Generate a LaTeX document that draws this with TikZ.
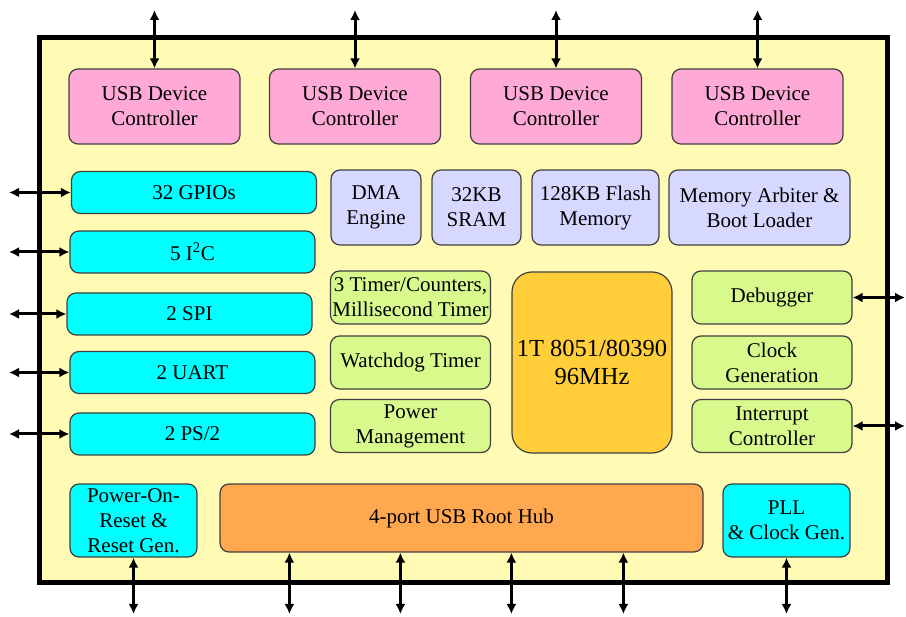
\documentclass[tikz,border=0pt]{standalone}
\usepackage{fontspec}
\setmainfont{Liberation Serif}[Ligatures=TeX]
\newfontfamily\chipfont{Liberation Serif}
\usetikzlibrary{arrows.meta}

\definecolor{chipbg}{RGB}{255,250,180}
\definecolor{usbpink}{RGB}{255,170,214}
\definecolor{iocyan}{RGB}{0,255,255}
\definecolor{memblue}{RGB}{214,216,255}
\definecolor{ctlgreen}{RGB}{216,250,140}
\definecolor{cpuorange}{RGB}{255,206,56}
\definecolor{huborange}{RGB}{255,168,80}

\begin{document}
\begin{tikzpicture}[
  x=1pt, y=-1pt,
  every node/.style={font=\chipfont\fontsize{21}{25}\selectfont},
  box/.style={
    rectangle, rounded corners=9pt,
    align=center, inner sep=0pt,
    draw=black!75, line width=1.2pt
  },
  usbbox/.style={box, fill=usbpink, minimum width=171pt, minimum height=75pt},
  iobox/.style={box, fill=iocyan, minimum width=245pt, minimum height=42pt},
  membox/.style={box, fill=memblue, minimum height=75pt},
  gbox/.style={box, fill=ctlgreen, minimum width=160pt, minimum height=53pt},
  arr/.style={{Latex[length=10pt,width=10pt]}-{Latex[length=10pt,width=10pt]}, line width=3pt}
]
\useasboundingbox (0,0) rectangle (906,617);

% chip outline
\node[draw, line width=5pt, fill=chipbg, inner sep=0pt,
  minimum width=848pt, minimum height=545pt] (chip) at (463,310.5) {};

% free ends of the pins
\coordinate (topend)   at (0,10);
\coordinate (leftend)  at (9,0);
\coordinate (rightend) at (905,0);
\coordinate (botend)   at (0,614);

% top row (USB device controllers)
\node[usbbox] (usb1) at (154.5,106.5) {USB Device\\Controller};
\node[usbbox] (usb2) at (355,106.5)   {USB Device\\Controller};
\node[usbbox] (usb3) at (556,106.5)   {USB Device\\Controller};
\node[usbbox] (usb4) at (757.5,106.5) {USB Device\\Controller};

% left column (peripherals)
\node[iobox] (gpio) at (194,192.5)   {32 GPIOs};
\node[iobox] (iic)  at (192.5,252)   {5 I\textsuperscript{2}C};
\node[iobox] (spi)  at (189.5,314)   {2 SPI};
\node[iobox] (uart) at (192.5,372.5) {2 UART};
\node[iobox] (ps2)  at (192.5,434)   {2 PS/2};

% memory row
\node[membox, minimum width=90pt]  (dma)   at (376,207.5)   {DMA\\Engine};
\node[membox, minimum width=89pt]  (sram)  at (476.5,207.5) {32KB\\SRAM};
\node[membox, minimum width=127pt] (flash) at (595.5,207.5) {128KB Flash\\Memory};
\node[membox, minimum width=181pt] (arb)   at (759.5,207.5) {Memory Arbiter \&\\Boot Loader};

% middle column
\node[gbox] (timer) at (410.5,297.5) {3 Timer/Counters,\\Millisecond Timer};
\node[gbox] (wdt)   at (410.5,362.5) {Watchdog Timer};
\node[gbox] (pmu)   at (410.5,426)   {Power\\Management};

% core
\node[box, rounded corners=20pt, fill=cpuorange, minimum width=160pt, minimum height=181pt,
  font=\chipfont\fontsize{24.5}{28}\selectfont] (cpu) at (592,362.5) {1T 8051/80390\\96MHz};

% right column
\node[gbox] (dbg)  at (772,297.5) {Debugger};
\node[gbox] (clk)  at (772,362.5) {Clock\\Generation};
\node[gbox] (intc) at (772,426)   {Interrupt\\Controller};

% bottom row
\node[box, fill=iocyan, minimum width=127pt, minimum height=73pt] (por) at (133.5,520.5)
  {Power-On-\\Reset \&\\Reset Gen.};
\node[box, fill=huborange, minimum width=483pt, minimum height=68pt] (hub) at (461.5,518)
  {4-port USB Root Hub};
\node[box, fill=iocyan, minimum width=127pt, minimum height=73pt] (pll) at (786.5,520.5)
  {PLL\\\& Clock Gen.};

% pins
\foreach \n in {usb1,usb2,usb3,usb4}
  \draw[arr] (\n.north |- topend) -- (\n.north);
\foreach \n in {gpio,iic,spi,uart,ps2}
  \draw[arr] (\n.west -| leftend) -- (\n.west);
\foreach \n in {dbg,intc}
  \draw[arr] (\n.east) -- (\n.east -| rightend);
\foreach \n in {por,pll}
  \draw[arr] (\n.south) -- (\n.south |- botend);
\foreach \d in {70,181,292,404}{
  \path ([xshift=\d]hub.south west) coordinate (hp);
  \draw[arr] (hp) -- (hp |- botend);
}

\end{tikzpicture}
\end{document}
